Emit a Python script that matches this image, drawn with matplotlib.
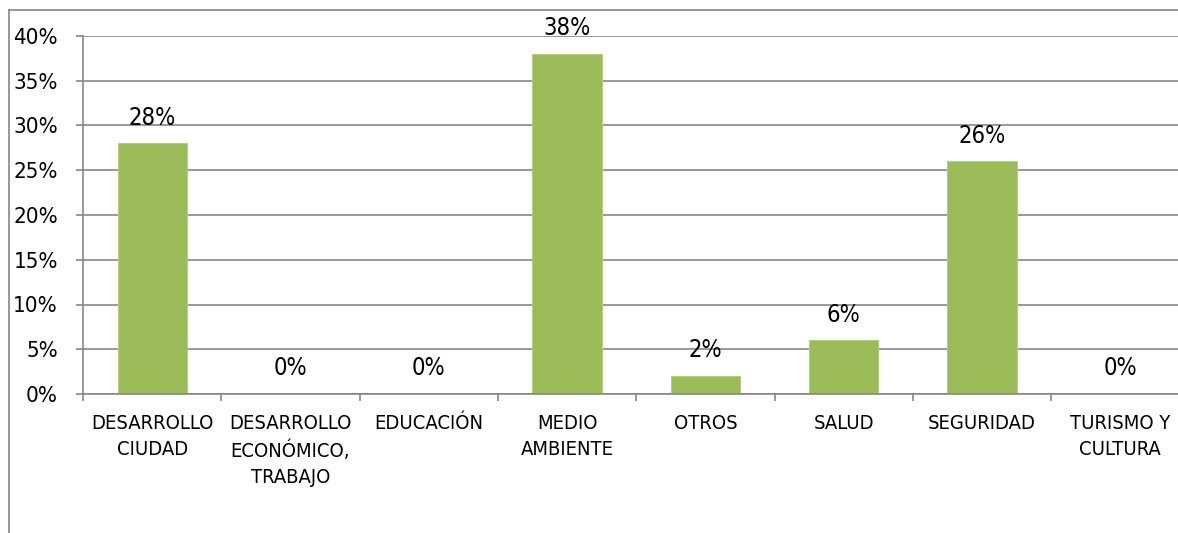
import matplotlib
matplotlib.use("Agg")
import matplotlib.pyplot as plt
from matplotlib import font_manager
from matplotlib.lines import Line2D

categories = ["DESARROLLO\nCIUDAD", "DESARROLLO\nECONÓMICO,\nTRABAJO", "EDUCACIÓN",
              "MEDIO\nAMBIENTE", "OTROS", "SALUD", "SEGURIDAD", "TURISMO Y\nCULTURA"]
values = [28, 0, 0, 38, 2, 6, 26, 0]
yticks = [0, 5, 10, 15, 20, 25, 30, 35, 40]

# look for a narrow font like the Excel original
fonts = [(f.name, f.stretch) for f in font_manager.fontManager.ttflist]
if any(n == "Liberation Sans Narrow" for n, s in fonts):
    plt.rcParams['font.family'] = ['Liberation Sans Narrow', 'DejaVu Sans']
elif any(n == "DejaVu Sans" and s == "condensed" for n, s in fonts):
    plt.rcParams['font.family'] = ['DejaVu Sans']
    plt.rcParams['font.stretch'] = 'condensed'
else:
    plt.rcParams['font.family'] = ['Liberation Sans', 'DejaVu Sans']
    plt.rcParams['font.stretch'] = 'condensed'

grey = "#868686"
green = "#9BBB59"

fig = plt.figure(figsize=(11.78, 5.33), dpi=100)
ax = fig.add_axes([83 / 1178, 139 / 533, 1106.4 / 1178, 358 / 533])

x = list(range(len(categories)))
ax.bar(x, values, width=0.5, color=green, edgecolor="#B5CC82", linewidth=0.8, zorder=2)

for xi, v in zip(x, values):
    ax.annotate("%d%%" % v, (xi, v), xytext=(0, 13.5), textcoords="offset points",
                ha="center", va="baseline", fontsize=17, color="black")

ax.set_xlim(-0.5, len(categories) - 0.5)
ax.set_ylim(0, 40)
ax.set_yticks(yticks)
ax.set_yticklabels(["%d%%" % t for t in yticks], fontsize=16)
ax.set_xticks(x)
ax.set_xticklabels(categories, fontsize=14.5, linespacing=1.45)
ax.set_xticks([i - 0.5 for i in range(len(categories) + 1)], minor=True)

ax.tick_params(axis="x", which="major", length=0, pad=14.5)
ax.tick_params(axis="x", which="minor", length=5, width=1.2, color=grey)
ax.tick_params(axis="y", length=5, width=1.2, color=grey, pad=13)

ax.grid(axis="y", color=grey, linewidth=1.2)
ax.set_axisbelow(True)
for s in ["top", "right"]:
    ax.spines[s].set_visible(False)
for s in ["left", "bottom"]:
    ax.spines[s].set_color(grey)
    ax.spines[s].set_linewidth(1.2)

# outer chart border (cropped)
ytop = 1 - 9.5 / 533
xleft = 8.5 / 1178
fig.add_artist(Line2D([xleft, xleft], [0, ytop], color=grey, linewidth=1.2))
fig.add_artist(Line2D([xleft, 1], [ytop, ytop], color=grey, linewidth=1.2))

fig.savefig("out.png", dpi=100)
